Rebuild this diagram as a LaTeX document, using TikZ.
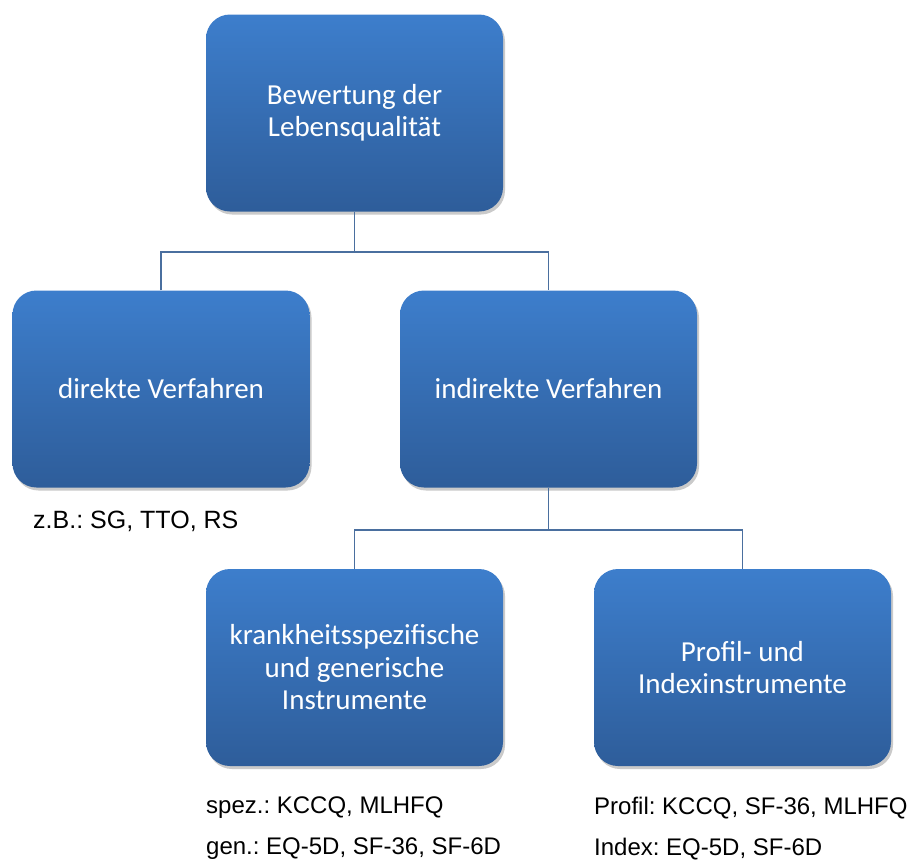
\documentclass[tikz,border=0pt]{standalone}
\usepackage{fontspec}
\setmainfont{Carlito}
\newfontfamily\arialfont{Liberation Sans}
\usetikzlibrary{shadows}
\definecolor{boxtop}{HTML}{3D7ECC}
\definecolor{boxbot}{HTML}{2E5D9A}
\definecolor{linecol}{HTML}{4A6F9F}
\tikzset{
  box/.style={rounded corners=24pt, minimum width=297pt, minimum height=197pt,
    top color=boxtop, bottom color=boxbot, draw=none,
    text=white, align=center, font=\fontsize{29}{32.5}\selectfont,
    drop shadow={shadow xshift=2pt, shadow yshift=-3pt, opacity=0.35, fill=black!60}},
  conn/.style={draw=linecol, line width=1.6pt},
  lbl/.style={anchor=west, font=\arialfont\fontsize{24}{27}\selectfont, inner sep=0pt}
}
\begin{document}
\frenchspacing
\begin{tikzpicture}[x=1pt,y=-1pt]
\useasboundingbox (0,0) rectangle (910,863);
\node[box] (top) at (354.5,113) {Bewertung der\\Lebensqualität};
\node[box] (dir) at (161,389) {direkte Verfahren};
\node[box] (ind) at (548.5,389) {indirekte Verfahren};
\node[box] (ks) at (354.5,667.5) {krankheitsspezifische\\und generische\\Instrumente};
\node[box] (pi) at (742.5,667.5) {Profil- und\\Indexinstrumente};
\coordinate (j1) at (354.5,252);
\coordinate (j2) at (548.5,530);
\draw[conn] (top.south) -- (j1);
\draw[conn] (dir.north) |- (j1) -| (ind.north);
\draw[conn] (ind.south) -- (j2);
\draw[conn] (ks.north) |- (j2) -| (pi.north);
\node[lbl, font=\arialfont\fontsize{25}{27}\selectfont] (l1) at (33,521) {z.B.: SG, TTO, RS};
\node[lbl] (l2) at (206,808) {spez.: KCCQ, MLHFQ};
\node[lbl] (l3) at (206,849) {gen.: EQ-5D, SF-36, SF-6D};
\node[lbl] (l4) at (594,808) {Profil: KCCQ, SF-36, MLHFQ};
\node[lbl] (l5) at (594,849) {Index: EQ-5D, SF-6D};
\end{tikzpicture}
\end{document}
